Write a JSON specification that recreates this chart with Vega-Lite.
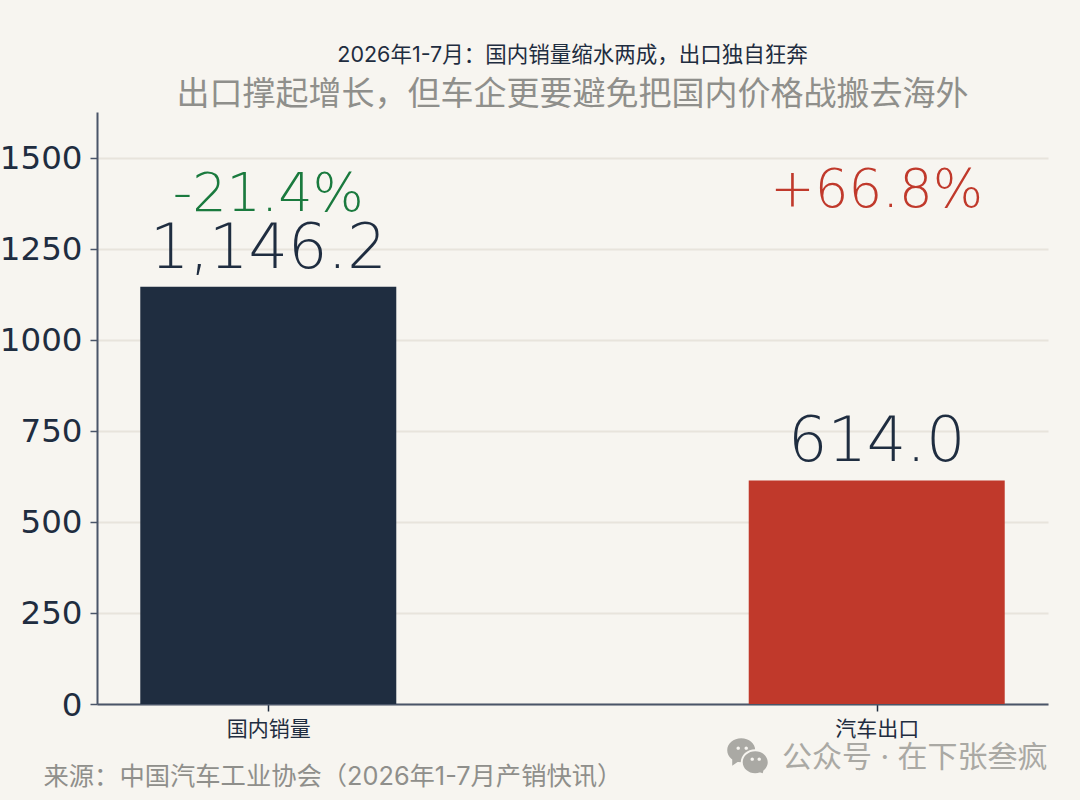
{
"$schema":"https://vega.github.io/schema/vega-lite/v6.json",
"width":951,"height":592,
"autosize":{"type":"none"},
"padding":{"left":97,"top":112,"right":32,"bottom":96},
"background":"#f7f5f0",
"view":{"stroke":null},
"config":{"font":"Inter, Noto Sans CJK SC"},
"title":{"text":"2026年1-7月：国内销量缩水两成，出口独自狂奔","subtitle":"出口撑起增长，但车企更要避免把国内价格战搬去海外","anchor":"middle","font":"Inter, Noto Sans CJK SC","fontSize":21.5,"fontWeight":"normal","color":"#1f2d40","subtitleFont":"Noto Sans CJK SC","subtitleFontSize":33,"subtitleColor":"#8f8f8b","subtitlePadding":13,"offset":0},
"data":{"values":[
{"category":"国内销量","sales":1146.2,"label":"1,146.2","change":"-21.4%"},
{"category":"汽车出口","sales":614.0,"label":"614.0","change":"+66.8%"}
]},
"encoding":{
"x":{"field":"category","type":"nominal","sort":null,
"scale":{"type":"point","padding":0.2815},
"axis":{"labelAngle":0,"labelFont":"Noto Sans CJK SC","labelFontSize":21,"labelColor":"#1f2d40","labelPadding":7,"tickColor":"#1f2d40","tickSize":7,"tickWidth":1.5,"domainColor":"#4a5568","domainWidth":2,"grid":false,
"title":"来源：中国汽车工业协会（2026年1-7月产销快讯）","titleFont":"Inter, Noto Sans CJK SC","titleFontSize":25.3,"titleFontWeight":"normal","titleColor":"#8f8f8b","titleAnchor":"start","titleAlign":"left","titleX":-54,"titleY":72,"titleBaseline":"middle"}}
},
"layer":[
{"mark":{"type":"bar","width":256},
"encoding":{
"y":{"field":"sales","type":"quantitative","scale":{"domain":[0,1626],"nice":false},
"axis":{"values":[0,250,500,750,1000,1250,1500],"format":"d","labelFont":"DejaVu Sans","labelFontSize":32.5,"labelColor":"#1f2d40","labelPadding":8,"labelOffset":1,"tickColor":"#4a5568","tickSize":7,"tickWidth":1.5,"domainColor":"#4a5568","domainWidth":2,"grid":true,"gridColor":"#e8e4dc","gridWidth":2,
"title":"公众号  · 在下张叁疯","titleFont":"Inter, Noto Sans CJK SC","titleFontSize":30,"titleFontWeight":"normal","titleColor":"#aaa9a4","titleAngle":0,"titleAlign":"right","titleBaseline":"middle","titleAnchor":"start","titleX":950,"titleY":645}},
"color":{"field":"category","type":"nominal","legend":null,"scale":{"domain":["国内销量","汽车出口"],"range":["#1f2d40","#c0392b"]}}
}},
{"mark":{"type":"text","font":"DejaVu Sans ExtraLight, DejaVu Sans","fontWeight":200,"fontSize":62,"color":"#1f2d40","baseline":"alphabetic","dy":-19},
"encoding":{"y":{"field":"sales","type":"quantitative"},"text":{"field":"label"}}},
{"transform":[{"filter":"datum.category==='国内销量'"}],
"mark":{"type":"text","font":"DejaVu Sans ExtraLight, DejaVu Sans","fontWeight":200,"fontSize":54,"color":"#1a7a3e","baseline":"alphabetic"},
"encoding":{"y":{"datum":1354},"text":{"field":"change"}}},
{"transform":[{"filter":"datum.category==='汽车出口'"}],
"mark":{"type":"text","font":"DejaVu Sans ExtraLight, DejaVu Sans","fontWeight":200,"fontSize":53,"color":"#c0392b","baseline":"alphabetic"},
"encoding":{"y":{"datum":1366},"text":{"field":"change"}}},
{"transform":[{"filter":"datum.category==='汽车出口'"}],
"mark":{"type":"point","filled":true,"opacity":1,"color":"#aaa9a4","size":400,"xOffset":-129.5,"clip":false,"shape":"M-2,-0.7 A1.4,1.2 0 1 1 0.8,-0.7 A1.4,1.2 0 1 1 -2,-0.7 Z M-1.5,-0.1 L-0.7,0.3 L-1.5,0.85 Z M-0.73,-0.9 A0.17,0.17 0 1 0 -1.07,-0.9 A0.17,0.17 0 1 0 -0.73,-0.9 Z M0.07,-0.9 A0.17,0.17 0 1 0 -0.27,-0.9 A0.17,0.17 0 1 0 0.07,-0.9 Z"},
"encoding":{"y":{"datum":-146}}},
{"transform":[{"filter":"datum.category==='汽车出口'"}],
"mark":{"type":"point","filled":true,"opacity":1,"color":"#f7f5f0","size":400,"xOffset":-129.5,"clip":false,"shape":"M-0.65,0.5 A1.45,1.3 0 1 1 2.25,0.5 A1.45,1.3 0 1 1 -0.65,0.5 Z"},
"encoding":{"y":{"datum":-146}}},
{"transform":[{"filter":"datum.category==='汽车出口'"}],
"mark":{"type":"point","filled":true,"opacity":1,"color":"#aaa9a4","size":400,"xOffset":-129.5,"clip":false,"shape":"M-0.45,0.5 A1.25,1.1 0 1 1 2.05,0.5 A1.25,1.1 0 1 1 -0.45,0.5 Z M1.7,1 L1.55,1.6 L0.95,1.4 Z M0.67,0.2 A0.17,0.17 0 1 0 0.33,0.2 A0.17,0.17 0 1 0 0.67,0.2 Z M1.37,0.2 A0.17,0.17 0 1 0 1.03,0.2 A0.17,0.17 0 1 0 1.37,0.2 Z"},
"encoding":{"y":{"datum":-146}}}
]
}
